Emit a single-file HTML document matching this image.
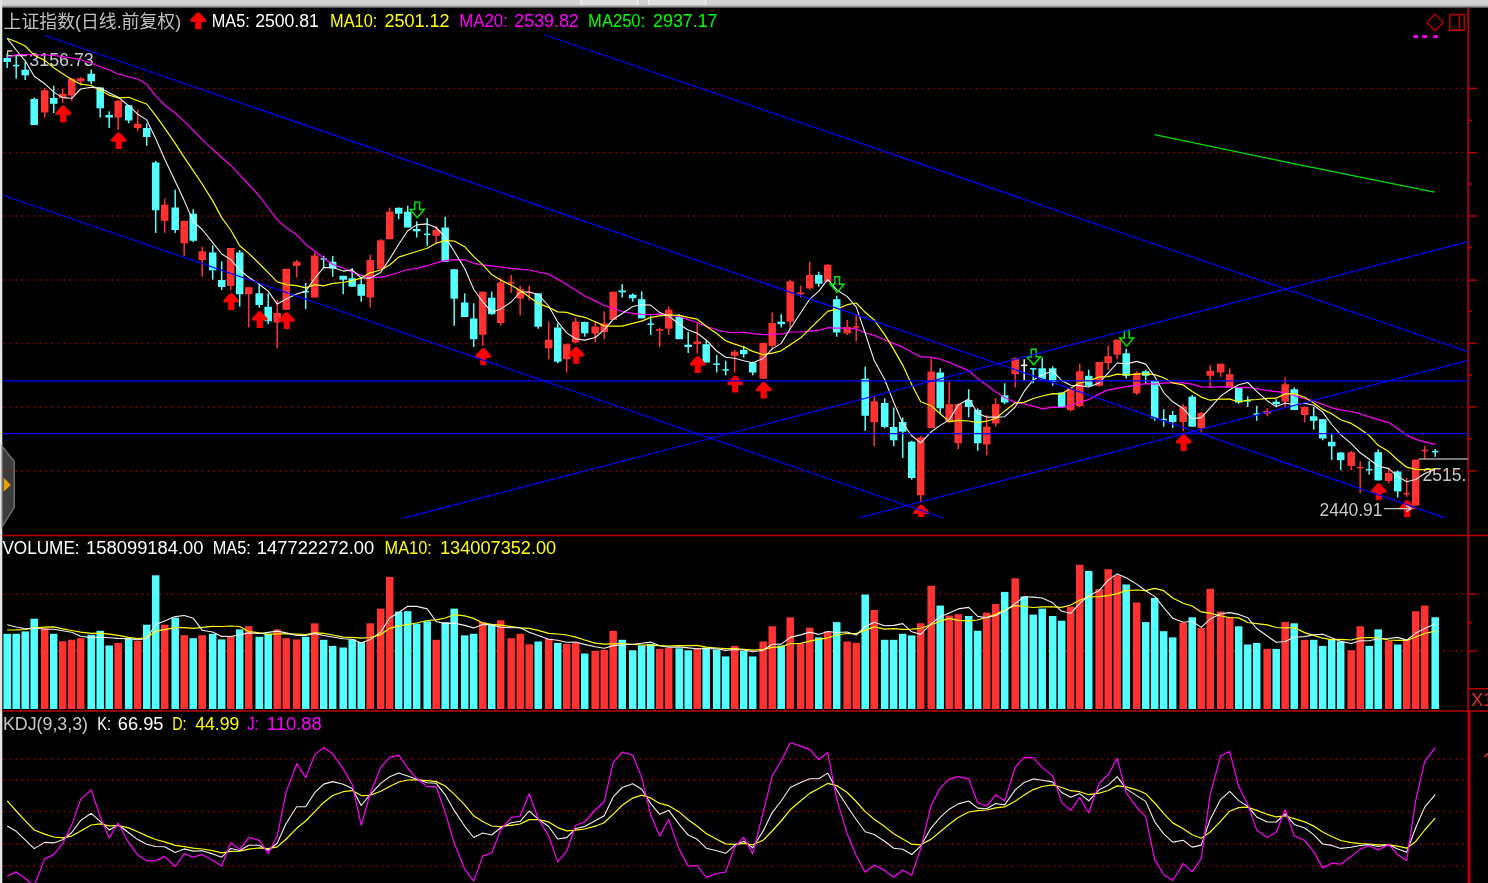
<!DOCTYPE html>
<html><head><meta charset="utf-8"><title>chart</title>
<style>html,body{margin:0;padding:0;background:#000;overflow:hidden}body{width:1488px;height:883px;position:relative}</style>
</head><body>
<svg width="1488" height="883" viewBox="0 0 1488 883" style="position:absolute;left:0;top:0;display:block" font-family="&quot;Liberation Sans&quot;,&quot;Noto Sans CJK SC&quot;,sans-serif">
<defs><linearGradient id="tg" x1="0" y1="0" x2="0" y2="1"><stop offset="0" stop-color="#d3d3d3"/><stop offset="0.56" stop-color="#d0d0d0"/><stop offset="0.72" stop-color="#a4a4a4"/><stop offset="0.86" stop-color="#5a5a5a"/><stop offset="0.98" stop-color="#000"/></linearGradient>
<clipPath id="mc"><rect x="2.5" y="8" width="1465.5" height="510.4"/></clipPath>
<clipPath id="ax"><rect x="0" y="0" width="1468" height="883"/></clipPath>
<clipPath id="ac"><rect x="0" y="0" width="1488" height="517"/></clipPath>
<path id="ua" d="M-1.2,0 H1.2 L7.7,7 V9.4 H3.05 V16.7 H-3.05 V9.4 H-7.7 V7 Z"/>
<path id="da" d="M-2.4,0 H2.4 V7.4 H7 L0,15.5 L-7,7.4 H-2.4 Z"/>
</defs>
<rect width="1488" height="883" fill="#000"/>
<rect x="0" y="0" width="1488" height="8.7" fill="url(#tg)"/>
<rect x="580.5" y="0" width="57.8" height="5" fill="#dfdfdf"/><rect x="648" y="0" width="58.3" height="5" fill="#dfdfdf"/>
<rect x="580.5" y="0" width="1.3" height="5" fill="#f4f4f4"/><rect x="648" y="0" width="1.3" height="5" fill="#f4f4f4"/><rect x="637" y="0" width="1.3" height="5" fill="#f0f0f0"/><rect x="705" y="0" width="1.3" height="5" fill="#f0f0f0"/>
<rect x="0" y="0" width="2.3" height="883" fill="#e4e4e4"/>
<path d="M2.3,446.5 L14.3,461.5 L14.3,507.3 L2.3,526.5 Z" fill="#3c3c3c" stroke="#6c6c6c" stroke-width="1.5"/>
<path d="M3.6,477.6 L10.8,484.9 L3.6,491.8 Z" fill="#e8a000"/>
<line x1="3.6" y1="88.4" x2="1465" y2="88.4" stroke="#b00000" stroke-width="1.5" stroke-dasharray="1.5 4.5"/>
<line x1="3.6" y1="152.7" x2="1465" y2="152.7" stroke="#b00000" stroke-width="1.5" stroke-dasharray="1.5 4.5"/>
<line x1="3.6" y1="216" x2="1465" y2="216" stroke="#b00000" stroke-width="1.5" stroke-dasharray="1.5 4.5"/>
<line x1="3.6" y1="280.1" x2="1465" y2="280.1" stroke="#b00000" stroke-width="1.5" stroke-dasharray="1.5 4.5"/>
<line x1="3.6" y1="343.4" x2="1465" y2="343.4" stroke="#b00000" stroke-width="1.5" stroke-dasharray="1.5 4.5"/>
<line x1="3.6" y1="406.9" x2="1465" y2="406.9" stroke="#b00000" stroke-width="1.5" stroke-dasharray="1.5 4.5"/>
<line x1="3.6" y1="470.9" x2="1465" y2="470.9" stroke="#b00000" stroke-width="1.5" stroke-dasharray="1.5 4.5"/>
<line x1="3.6" y1="594" x2="1465" y2="594" stroke="#b00000" stroke-width="1.5" stroke-dasharray="1.5 4.5"/>
<line x1="3.6" y1="651" x2="1465" y2="651" stroke="#b00000" stroke-width="1.5" stroke-dasharray="1.5 4.5"/>
<line x1="3.6" y1="759" x2="1465" y2="759" stroke="#b00000" stroke-width="1.5" stroke-dasharray="1.5 4.5"/>
<line x1="3.6" y1="780.2" x2="1465" y2="780.2" stroke="#b00000" stroke-width="1.5" stroke-dasharray="1.5 4.5"/>
<line x1="3.6" y1="811.6" x2="1465" y2="811.6" stroke="#b00000" stroke-width="1.5" stroke-dasharray="1.5 4.5"/>
<line x1="3.6" y1="844.1" x2="1465" y2="844.1" stroke="#b00000" stroke-width="1.5" stroke-dasharray="1.5 4.5"/>
<line x1="3.6" y1="865.8" x2="1465" y2="865.8" stroke="#b00000" stroke-width="1.5" stroke-dasharray="1.5 4.5"/>
<line x1="1468.15" y1="7.8" x2="1468.15" y2="711" stroke="#b80000" stroke-width="1.7"/>
<rect x="1467.4" y="711" width="3.2" height="172" fill="#b80000"/>
<line x1="1468" y1="88.4" x2="1477" y2="88.4" stroke="#b80000" stroke-width="1.5"/>
<line x1="1468" y1="152.7" x2="1477" y2="152.7" stroke="#b80000" stroke-width="1.5"/>
<line x1="1468" y1="216" x2="1477" y2="216" stroke="#b80000" stroke-width="1.5"/>
<line x1="1468" y1="280.1" x2="1477" y2="280.1" stroke="#b80000" stroke-width="1.5"/>
<line x1="1468" y1="343.4" x2="1477" y2="343.4" stroke="#b80000" stroke-width="1.5"/>
<line x1="1468" y1="406.9" x2="1477" y2="406.9" stroke="#b80000" stroke-width="1.5"/>
<line x1="1468" y1="470.9" x2="1477" y2="470.9" stroke="#b80000" stroke-width="1.5"/>
<line x1="1468" y1="120.3" x2="1472" y2="120.3" stroke="#b80000" stroke-width="1.5"/>
<line x1="1468" y1="184.0" x2="1472" y2="184.0" stroke="#b80000" stroke-width="1.5"/>
<line x1="1468" y1="247.7" x2="1472" y2="247.7" stroke="#b80000" stroke-width="1.5"/>
<line x1="1468" y1="311.4" x2="1472" y2="311.4" stroke="#b80000" stroke-width="1.5"/>
<line x1="1468" y1="375.2" x2="1472" y2="375.2" stroke="#b80000" stroke-width="1.5"/>
<line x1="1468" y1="438.9" x2="1472" y2="438.9" stroke="#b80000" stroke-width="1.5"/>
<line x1="1468" y1="594" x2="1477" y2="594" stroke="#b80000" stroke-width="1.5"/>
<line x1="1468" y1="651" x2="1477" y2="651" stroke="#b80000" stroke-width="1.5"/>
<line x1="1468" y1="622.6" x2="1472" y2="622.6" stroke="#b80000" stroke-width="1.5"/>
<path d="M1484.5,757 L1488,753.5" stroke="#e03030" stroke-width="1.5"/>
<line x1="2.3" y1="535.5" x2="1488" y2="535.5" stroke="#b80000" stroke-width="1.6"/>
<line x1="2.3" y1="711" x2="1488" y2="711" stroke="#b80000" stroke-width="1.6"/>
<path d="M1468.6,688.7 H1488" stroke="#b80000" stroke-width="1.5" fill="none"/>
<text x="1471.3" y="705.6" font-size="18" fill="#e03030">X1</text>
<rect x="6.45" y="53.3" width="1.5" height="14.7" fill="#54ffff"/>
<rect x="3.45" y="58.0" width="7.5" height="4.0" fill="#54ffff"/>
<rect x="15.45" y="55.0" width="1.5" height="23.7" fill="#54ffff"/>
<rect x="13.00" y="64.8" width="6.4" height="1.5" fill="#54ffff"/>
<rect x="24.45" y="61.7" width="1.5" height="18.3" fill="#54ffff"/>
<rect x="21.45" y="69.7" width="7.5" height="5.6" fill="#54ffff"/>
<rect x="33.45" y="97.5" width="1.5" height="27.5" fill="#54ffff"/>
<rect x="30.45" y="99.0" width="7.5" height="26.0" fill="#54ffff"/>
<rect x="43.95" y="88.3" width="1.5" height="29.2" fill="#ff3232"/>
<rect x="40.95" y="90.3" width="7.5" height="22.2" fill="#ff3232"/>
<rect x="52.95" y="85.8" width="1.5" height="27.2" fill="#54ffff"/>
<rect x="49.95" y="98.0" width="7.5" height="5.8" fill="#54ffff"/>
<rect x="61.95" y="88.3" width="1.5" height="14.5" fill="#ff3232"/>
<rect x="58.95" y="93.8" width="7.5" height="4.2" fill="#ff3232"/>
<rect x="70.95" y="78.0" width="1.5" height="22.8" fill="#ff3232"/>
<rect x="67.95" y="78.7" width="7.5" height="16.8" fill="#ff3232"/>
<rect x="79.95" y="77.2" width="1.5" height="8.1" fill="#ff3232"/>
<rect x="76.95" y="78.3" width="7.5" height="3.0" fill="#ff3232"/>
<rect x="90.45" y="69.5" width="1.5" height="14.7" fill="#54ffff"/>
<rect x="87.45" y="73.7" width="7.5" height="7.6" fill="#54ffff"/>
<rect x="99.45" y="87.5" width="1.5" height="30.0" fill="#54ffff"/>
<rect x="96.45" y="87.5" width="7.5" height="20.8" fill="#54ffff"/>
<rect x="108.45" y="111.3" width="1.5" height="16.7" fill="#54ffff"/>
<rect x="105.45" y="115.0" width="7.5" height="2.5" fill="#54ffff"/>
<rect x="117.45" y="100.0" width="1.5" height="30.0" fill="#ff3232"/>
<rect x="114.45" y="100.8" width="7.5" height="16.7" fill="#ff3232"/>
<rect x="127.95" y="105.0" width="1.5" height="18.3" fill="#54ffff"/>
<rect x="124.95" y="105.3" width="7.5" height="15.2" fill="#54ffff"/>
<rect x="136.95" y="110.0" width="1.5" height="21.2" fill="#ff3232"/>
<rect x="133.95" y="123.8" width="7.5" height="4.2" fill="#ff3232"/>
<rect x="145.95" y="123.3" width="1.5" height="22.5" fill="#54ffff"/>
<rect x="142.95" y="128.0" width="7.5" height="9.0" fill="#54ffff"/>
<rect x="154.95" y="160.8" width="1.5" height="72.2" fill="#54ffff"/>
<rect x="151.95" y="162.5" width="7.5" height="47.8" fill="#54ffff"/>
<rect x="163.95" y="198.7" width="1.5" height="34.3" fill="#ff3232"/>
<rect x="160.95" y="204.7" width="7.5" height="16.1" fill="#ff3232"/>
<rect x="174.45" y="189.7" width="1.5" height="43.3" fill="#54ffff"/>
<rect x="171.45" y="207.5" width="7.5" height="22.5" fill="#54ffff"/>
<rect x="183.45" y="220.8" width="1.5" height="35.0" fill="#ff3232"/>
<rect x="180.45" y="220.8" width="7.5" height="22.5" fill="#ff3232"/>
<rect x="192.45" y="209.2" width="1.5" height="32.8" fill="#54ffff"/>
<rect x="189.45" y="213.7" width="7.5" height="27.1" fill="#54ffff"/>
<rect x="201.45" y="246.7" width="1.5" height="30.0" fill="#ff3232"/>
<rect x="198.45" y="251.3" width="7.5" height="8.7" fill="#ff3232"/>
<rect x="211.95" y="245.3" width="1.5" height="34.4" fill="#54ffff"/>
<rect x="208.95" y="252.5" width="7.5" height="17.8" fill="#54ffff"/>
<rect x="220.95" y="261.3" width="1.5" height="28.7" fill="#54ffff"/>
<rect x="217.95" y="280.0" width="7.5" height="7.0" fill="#54ffff"/>
<rect x="229.95" y="248.0" width="1.5" height="42.0" fill="#ff3232"/>
<rect x="226.95" y="248.0" width="7.5" height="37.8" fill="#ff3232"/>
<rect x="238.95" y="250.0" width="1.5" height="56.7" fill="#54ffff"/>
<rect x="235.95" y="252.5" width="7.5" height="41.7" fill="#54ffff"/>
<rect x="247.95" y="287.2" width="1.5" height="40.3" fill="#ff3232"/>
<rect x="244.95" y="287.2" width="7.5" height="7.0" fill="#ff3232"/>
<rect x="258.45" y="284.2" width="1.5" height="23.3" fill="#54ffff"/>
<rect x="255.45" y="293.3" width="7.5" height="11.7" fill="#54ffff"/>
<rect x="267.45" y="293.3" width="1.5" height="30.9" fill="#54ffff"/>
<rect x="264.45" y="306.7" width="7.5" height="14.6" fill="#54ffff"/>
<rect x="276.45" y="299.7" width="1.5" height="48.6" fill="#ff3232"/>
<rect x="273.45" y="313.0" width="7.5" height="9.5" fill="#ff3232"/>
<rect x="285.45" y="268.8" width="1.5" height="41.2" fill="#ff3232"/>
<rect x="282.45" y="268.8" width="7.5" height="40.9" fill="#ff3232"/>
<rect x="295.95" y="260.0" width="1.5" height="17.5" fill="#ff3232"/>
<rect x="292.95" y="261.7" width="7.5" height="4.1" fill="#ff3232"/>
<rect x="304.95" y="283.0" width="1.5" height="26.2" fill="#54ffff"/>
<rect x="302.50" y="290.9" width="6.4" height="1.5" fill="#54ffff"/>
<rect x="313.95" y="252.5" width="1.5" height="45.0" fill="#ff3232"/>
<rect x="310.95" y="255.5" width="7.5" height="42.0" fill="#ff3232"/>
<rect x="322.95" y="255.8" width="1.5" height="12.5" fill="#54ffff"/>
<rect x="320.50" y="258.2" width="6.4" height="1.5" fill="#54ffff"/>
<rect x="331.95" y="255.8" width="1.5" height="20.9" fill="#54ffff"/>
<rect x="328.95" y="261.7" width="7.5" height="6.6" fill="#54ffff"/>
<rect x="342.45" y="275.8" width="1.5" height="18.4" fill="#54ffff"/>
<rect x="339.45" y="275.8" width="7.5" height="3.9" fill="#54ffff"/>
<rect x="351.45" y="268.0" width="1.5" height="18.7" fill="#54ffff"/>
<rect x="348.45" y="278.3" width="7.5" height="8.4" fill="#54ffff"/>
<rect x="360.45" y="277.5" width="1.5" height="24.2" fill="#54ffff"/>
<rect x="357.45" y="284.2" width="7.5" height="11.6" fill="#54ffff"/>
<rect x="369.45" y="254.7" width="1.5" height="52.8" fill="#ff3232"/>
<rect x="366.45" y="260.0" width="7.5" height="37.5" fill="#ff3232"/>
<rect x="379.95" y="239.2" width="1.5" height="30.0" fill="#ff3232"/>
<rect x="376.95" y="240.3" width="7.5" height="28.9" fill="#ff3232"/>
<rect x="388.95" y="207.5" width="1.5" height="31.7" fill="#ff3232"/>
<rect x="385.95" y="211.7" width="7.5" height="27.5" fill="#ff3232"/>
<rect x="397.95" y="207.5" width="1.5" height="11.7" fill="#54ffff"/>
<rect x="394.95" y="207.8" width="7.5" height="6.0" fill="#54ffff"/>
<rect x="406.95" y="205.8" width="1.5" height="21.7" fill="#54ffff"/>
<rect x="403.95" y="211.7" width="7.5" height="15.8" fill="#54ffff"/>
<rect x="415.95" y="221.3" width="1.5" height="16.2" fill="#54ffff"/>
<rect x="412.95" y="229.0" width="7.5" height="2.3" fill="#54ffff"/>
<rect x="426.45" y="218.0" width="1.5" height="27.8" fill="#54ffff"/>
<rect x="424.00" y="233.6" width="6.4" height="1.5" fill="#54ffff"/>
<rect x="435.45" y="225.8" width="1.5" height="17.5" fill="#ff3232"/>
<rect x="432.45" y="230.0" width="7.5" height="5.8" fill="#ff3232"/>
<rect x="444.45" y="216.7" width="1.5" height="45.0" fill="#54ffff"/>
<rect x="441.45" y="227.5" width="7.5" height="34.2" fill="#54ffff"/>
<rect x="453.45" y="269.2" width="1.5" height="56.6" fill="#54ffff"/>
<rect x="450.45" y="269.2" width="7.5" height="29.5" fill="#54ffff"/>
<rect x="463.95" y="293.3" width="1.5" height="23.7" fill="#54ffff"/>
<rect x="460.95" y="302.5" width="7.5" height="14.5" fill="#54ffff"/>
<rect x="472.95" y="303.3" width="1.5" height="43.7" fill="#54ffff"/>
<rect x="469.95" y="318.5" width="7.5" height="20.7" fill="#54ffff"/>
<rect x="481.95" y="291.7" width="1.5" height="54.1" fill="#ff3232"/>
<rect x="478.95" y="291.7" width="7.5" height="43.0" fill="#ff3232"/>
<rect x="490.95" y="291.5" width="1.5" height="23.2" fill="#54ffff"/>
<rect x="487.95" y="297.7" width="7.5" height="16.5" fill="#54ffff"/>
<rect x="499.95" y="278.2" width="1.5" height="47.6" fill="#ff3232"/>
<rect x="496.95" y="282.5" width="7.5" height="40.5" fill="#ff3232"/>
<rect x="510.45" y="275.0" width="1.5" height="18.0" fill="#ff3232"/>
<rect x="508.00" y="282.1" width="6.4" height="1.5" fill="#ff3232"/>
<rect x="519.45" y="285.8" width="1.5" height="29.5" fill="#ff3232"/>
<rect x="516.45" y="289.2" width="7.5" height="9.5" fill="#ff3232"/>
<rect x="528.45" y="285.8" width="1.5" height="14.5" fill="#ff3232"/>
<rect x="526.00" y="291.8" width="6.4" height="1.5" fill="#ff3232"/>
<rect x="537.45" y="293.3" width="1.5" height="35.4" fill="#54ffff"/>
<rect x="534.45" y="293.3" width="7.5" height="33.4" fill="#54ffff"/>
<rect x="547.95" y="321.7" width="1.5" height="37.5" fill="#ff3232"/>
<rect x="544.95" y="339.7" width="7.5" height="8.6" fill="#ff3232"/>
<rect x="556.95" y="323.3" width="1.5" height="40.0" fill="#54ffff"/>
<rect x="553.95" y="327.5" width="7.5" height="34.2" fill="#54ffff"/>
<rect x="565.95" y="343.3" width="1.5" height="29.2" fill="#ff3232"/>
<rect x="562.95" y="344.2" width="7.5" height="15.0" fill="#ff3232"/>
<rect x="574.95" y="317.5" width="1.5" height="25.8" fill="#ff3232"/>
<rect x="571.95" y="321.7" width="7.5" height="20.8" fill="#ff3232"/>
<rect x="583.95" y="321.7" width="1.5" height="15.0" fill="#54ffff"/>
<rect x="580.95" y="322.0" width="7.5" height="11.3" fill="#54ffff"/>
<rect x="594.45" y="321.7" width="1.5" height="20.8" fill="#ff3232"/>
<rect x="591.45" y="326.5" width="7.5" height="7.0" fill="#ff3232"/>
<rect x="603.45" y="311.5" width="1.5" height="27.7" fill="#ff3232"/>
<rect x="600.45" y="323.5" width="7.5" height="8.5" fill="#ff3232"/>
<rect x="612.45" y="291.5" width="1.5" height="28.5" fill="#ff3232"/>
<rect x="609.45" y="291.7" width="7.5" height="28.3" fill="#ff3232"/>
<rect x="621.45" y="284.2" width="1.5" height="13.3" fill="#54ffff"/>
<rect x="618.45" y="290.5" width="7.5" height="1.8" fill="#54ffff"/>
<rect x="631.95" y="293.3" width="1.5" height="8.4" fill="#54ffff"/>
<rect x="628.95" y="294.7" width="7.5" height="3.6" fill="#54ffff"/>
<rect x="640.95" y="291.3" width="1.5" height="27.0" fill="#54ffff"/>
<rect x="637.95" y="299.2" width="7.5" height="19.1" fill="#54ffff"/>
<rect x="649.95" y="315.8" width="1.5" height="19.2" fill="#54ffff"/>
<rect x="647.50" y="323.4" width="6.4" height="1.5" fill="#54ffff"/>
<rect x="658.95" y="327.5" width="1.5" height="19.5" fill="#ff3232"/>
<rect x="655.95" y="329.2" width="7.5" height="1.6" fill="#ff3232"/>
<rect x="667.95" y="306.3" width="1.5" height="28.7" fill="#ff3232"/>
<rect x="664.95" y="309.7" width="7.5" height="19.0" fill="#ff3232"/>
<rect x="678.45" y="314.2" width="1.5" height="25.0" fill="#54ffff"/>
<rect x="675.45" y="316.7" width="7.5" height="22.5" fill="#54ffff"/>
<rect x="687.45" y="331.7" width="1.5" height="21.3" fill="#54ffff"/>
<rect x="684.45" y="344.7" width="7.5" height="2.3" fill="#54ffff"/>
<rect x="696.45" y="323.3" width="1.5" height="30.0" fill="#ff3232"/>
<rect x="693.45" y="341.5" width="7.5" height="2.5" fill="#ff3232"/>
<rect x="705.45" y="340.8" width="1.5" height="21.7" fill="#54ffff"/>
<rect x="702.45" y="344.2" width="7.5" height="18.3" fill="#54ffff"/>
<rect x="715.95" y="355.0" width="1.5" height="17.5" fill="#54ffff"/>
<rect x="713.50" y="363.4" width="6.4" height="1.5" fill="#54ffff"/>
<rect x="724.95" y="360.8" width="1.5" height="14.5" fill="#54ffff"/>
<rect x="722.50" y="369.2" width="6.4" height="1.5" fill="#54ffff"/>
<rect x="733.95" y="350.0" width="1.5" height="22.5" fill="#ff3232"/>
<rect x="730.95" y="351.7" width="7.5" height="4.1" fill="#ff3232"/>
<rect x="742.95" y="345.8" width="1.5" height="11.7" fill="#54ffff"/>
<rect x="739.95" y="350.0" width="7.5" height="4.2" fill="#54ffff"/>
<rect x="751.95" y="361.7" width="1.5" height="13.6" fill="#54ffff"/>
<rect x="748.95" y="362.5" width="7.5" height="10.0" fill="#54ffff"/>
<rect x="762.45" y="342.5" width="1.5" height="36.2" fill="#ff3232"/>
<rect x="759.45" y="343.0" width="7.5" height="35.7" fill="#ff3232"/>
<rect x="771.45" y="312.5" width="1.5" height="36.7" fill="#ff3232"/>
<rect x="768.45" y="323.0" width="7.5" height="22.8" fill="#ff3232"/>
<rect x="780.45" y="314.2" width="1.5" height="13.3" fill="#54ffff"/>
<rect x="777.45" y="321.7" width="7.5" height="2.5" fill="#54ffff"/>
<rect x="789.45" y="280.0" width="1.5" height="49.2" fill="#ff3232"/>
<rect x="786.45" y="281.3" width="7.5" height="40.4" fill="#ff3232"/>
<rect x="799.95" y="285.5" width="1.5" height="12.0" fill="#ff3232"/>
<rect x="796.95" y="292.5" width="7.5" height="1.7" fill="#ff3232"/>
<rect x="808.95" y="261.7" width="1.5" height="28.3" fill="#ff3232"/>
<rect x="805.95" y="275.0" width="7.5" height="13.3" fill="#ff3232"/>
<rect x="817.95" y="271.7" width="1.5" height="15.0" fill="#54ffff"/>
<rect x="814.95" y="275.0" width="7.5" height="8.7" fill="#54ffff"/>
<rect x="826.95" y="264.2" width="1.5" height="18.3" fill="#ff3232"/>
<rect x="823.95" y="264.7" width="7.5" height="17.0" fill="#ff3232"/>
<rect x="835.95" y="295.8" width="1.5" height="40.9" fill="#54ffff"/>
<rect x="832.95" y="299.2" width="7.5" height="33.3" fill="#54ffff"/>
<rect x="846.45" y="320.0" width="1.5" height="15.0" fill="#ff3232"/>
<rect x="843.45" y="327.0" width="7.5" height="6.3" fill="#ff3232"/>
<rect x="855.45" y="315.0" width="1.5" height="26.3" fill="#ff3232"/>
<rect x="853.00" y="326.2" width="6.4" height="1.5" fill="#ff3232"/>
<rect x="864.45" y="366.7" width="1.5" height="64.1" fill="#54ffff"/>
<rect x="861.45" y="378.7" width="7.5" height="37.1" fill="#54ffff"/>
<rect x="873.45" y="396.7" width="1.5" height="49.6" fill="#ff3232"/>
<rect x="870.45" y="401.3" width="7.5" height="20.9" fill="#ff3232"/>
<rect x="883.95" y="398.3" width="1.5" height="30.0" fill="#54ffff"/>
<rect x="880.95" y="403.0" width="7.5" height="24.0" fill="#54ffff"/>
<rect x="892.95" y="407.5" width="1.5" height="38.8" fill="#54ffff"/>
<rect x="889.95" y="427.0" width="7.5" height="13.3" fill="#54ffff"/>
<rect x="901.95" y="417.5" width="1.5" height="40.5" fill="#54ffff"/>
<rect x="898.95" y="422.0" width="7.5" height="9.7" fill="#54ffff"/>
<rect x="910.95" y="440.8" width="1.5" height="38.9" fill="#54ffff"/>
<rect x="907.95" y="441.7" width="7.5" height="36.3" fill="#54ffff"/>
<rect x="919.95" y="435.8" width="1.5" height="65.9" fill="#ff3232"/>
<rect x="916.95" y="437.5" width="7.5" height="57.8" fill="#ff3232"/>
<rect x="930.45" y="358.5" width="1.5" height="69.5" fill="#ff3232"/>
<rect x="927.45" y="371.5" width="7.5" height="56.5" fill="#ff3232"/>
<rect x="939.45" y="368.3" width="1.5" height="45.2" fill="#54ffff"/>
<rect x="936.45" y="372.5" width="7.5" height="35.8" fill="#54ffff"/>
<rect x="948.45" y="381.7" width="1.5" height="41.3" fill="#ff3232"/>
<rect x="945.45" y="404.2" width="7.5" height="18.1" fill="#ff3232"/>
<rect x="957.45" y="403.3" width="1.5" height="45.9" fill="#ff3232"/>
<rect x="954.45" y="404.2" width="7.5" height="39.0" fill="#ff3232"/>
<rect x="967.95" y="389.2" width="1.5" height="28.3" fill="#54ffff"/>
<rect x="964.95" y="400.0" width="7.5" height="7.0" fill="#54ffff"/>
<rect x="976.95" y="408.3" width="1.5" height="42.5" fill="#54ffff"/>
<rect x="973.95" y="410.0" width="7.5" height="33.2" fill="#54ffff"/>
<rect x="985.95" y="415.0" width="1.5" height="40.3" fill="#ff3232"/>
<rect x="982.95" y="426.7" width="7.5" height="17.8" fill="#ff3232"/>
<rect x="994.95" y="398.2" width="1.5" height="28.5" fill="#ff3232"/>
<rect x="991.95" y="404.2" width="7.5" height="19.3" fill="#ff3232"/>
<rect x="1003.95" y="383.3" width="1.5" height="20.9" fill="#54ffff"/>
<rect x="1000.95" y="395.3" width="7.5" height="7.2" fill="#54ffff"/>
<rect x="1014.45" y="357.5" width="1.5" height="30.0" fill="#ff3232"/>
<rect x="1011.45" y="358.3" width="7.5" height="15.9" fill="#ff3232"/>
<rect x="1023.45" y="359.2" width="1.5" height="21.1" fill="#ffffff"/>
<rect x="1021.00" y="364.6" width="6.4" height="1.5" fill="#ffffff"/>
<rect x="1032.45" y="368.3" width="1.5" height="15.0" fill="#54ffff"/>
<rect x="1030.00" y="368.1" width="6.4" height="1.5" fill="#54ffff"/>
<rect x="1041.45" y="357.5" width="1.5" height="22.5" fill="#54ffff"/>
<rect x="1038.45" y="368.3" width="7.5" height="10.9" fill="#54ffff"/>
<rect x="1051.95" y="366.3" width="1.5" height="19.5" fill="#54ffff"/>
<rect x="1048.95" y="368.3" width="7.5" height="13.4" fill="#54ffff"/>
<rect x="1060.95" y="392.5" width="1.5" height="15.0" fill="#54ffff"/>
<rect x="1057.95" y="392.5" width="7.5" height="15.0" fill="#54ffff"/>
<rect x="1069.95" y="387.5" width="1.5" height="24.0" fill="#ff3232"/>
<rect x="1066.95" y="388.5" width="7.5" height="21.5" fill="#ff3232"/>
<rect x="1078.95" y="363.7" width="1.5" height="43.6" fill="#ff3232"/>
<rect x="1075.95" y="371.3" width="7.5" height="34.7" fill="#ff3232"/>
<rect x="1087.95" y="369.7" width="1.5" height="17.0" fill="#54ffff"/>
<rect x="1084.95" y="375.8" width="7.5" height="10.0" fill="#54ffff"/>
<rect x="1098.45" y="362.0" width="1.5" height="24.7" fill="#ff3232"/>
<rect x="1095.45" y="362.0" width="7.5" height="23.8" fill="#ff3232"/>
<rect x="1107.45" y="345.8" width="1.5" height="24.2" fill="#ff3232"/>
<rect x="1104.45" y="356.3" width="7.5" height="6.7" fill="#ff3232"/>
<rect x="1116.45" y="339.2" width="1.5" height="20.0" fill="#ff3232"/>
<rect x="1113.45" y="339.7" width="7.5" height="15.0" fill="#ff3232"/>
<rect x="1125.45" y="348.7" width="1.5" height="30.0" fill="#54ffff"/>
<rect x="1122.45" y="353.3" width="7.5" height="22.5" fill="#54ffff"/>
<rect x="1135.95" y="371.3" width="1.5" height="23.7" fill="#ff3232"/>
<rect x="1132.95" y="373.0" width="7.5" height="20.3" fill="#ff3232"/>
<rect x="1144.95" y="369.7" width="1.5" height="13.6" fill="#54ffff"/>
<rect x="1141.95" y="371.3" width="7.5" height="4.5" fill="#54ffff"/>
<rect x="1153.95" y="380.8" width="1.5" height="40.0" fill="#54ffff"/>
<rect x="1150.95" y="380.8" width="7.5" height="37.5" fill="#54ffff"/>
<rect x="1162.95" y="409.2" width="1.5" height="17.5" fill="#54ffff"/>
<rect x="1160.50" y="418.8" width="6.4" height="1.5" fill="#54ffff"/>
<rect x="1171.95" y="410.8" width="1.5" height="17.2" fill="#54ffff"/>
<rect x="1168.95" y="415.0" width="7.5" height="7.0" fill="#54ffff"/>
<rect x="1182.45" y="404.2" width="1.5" height="27.1" fill="#ff3232"/>
<rect x="1179.45" y="406.3" width="7.5" height="15.7" fill="#ff3232"/>
<rect x="1191.45" y="395.0" width="1.5" height="31.7" fill="#54ffff"/>
<rect x="1188.45" y="396.7" width="7.5" height="30.0" fill="#54ffff"/>
<rect x="1200.45" y="411.7" width="1.5" height="20.8" fill="#ff3232"/>
<rect x="1197.45" y="413.0" width="7.5" height="15.0" fill="#ff3232"/>
<rect x="1209.45" y="365.0" width="1.5" height="23.0" fill="#ff3232"/>
<rect x="1206.45" y="370.8" width="7.5" height="5.0" fill="#ff3232"/>
<rect x="1219.95" y="363.7" width="1.5" height="13.3" fill="#ff3232"/>
<rect x="1216.95" y="363.7" width="7.5" height="8.8" fill="#ff3232"/>
<rect x="1228.95" y="368.3" width="1.5" height="19.7" fill="#ff3232"/>
<rect x="1225.95" y="374.2" width="7.5" height="13.8" fill="#ff3232"/>
<rect x="1237.95" y="388.0" width="1.5" height="15.7" fill="#54ffff"/>
<rect x="1234.95" y="388.0" width="7.5" height="14.5" fill="#54ffff"/>
<rect x="1246.95" y="396.3" width="1.5" height="10.7" fill="#54ffff"/>
<rect x="1244.50" y="400.1" width="6.4" height="1.5" fill="#54ffff"/>
<rect x="1255.95" y="405.8" width="1.5" height="15.0" fill="#54ffff"/>
<rect x="1253.50" y="413.4" width="6.4" height="1.5" fill="#54ffff"/>
<rect x="1266.45" y="408.3" width="1.5" height="8.0" fill="#ff3232"/>
<rect x="1263.45" y="410.8" width="7.5" height="2.9" fill="#ff3232"/>
<rect x="1275.45" y="399.2" width="1.5" height="7.8" fill="#54ffff"/>
<rect x="1272.45" y="401.7" width="7.5" height="2.5" fill="#54ffff"/>
<rect x="1284.45" y="377.5" width="1.5" height="29.5" fill="#ff3232"/>
<rect x="1281.45" y="384.2" width="7.5" height="17.5" fill="#ff3232"/>
<rect x="1293.45" y="387.5" width="1.5" height="22.5" fill="#54ffff"/>
<rect x="1290.45" y="389.2" width="7.5" height="20.8" fill="#54ffff"/>
<rect x="1303.95" y="406.3" width="1.5" height="16.2" fill="#ff3232"/>
<rect x="1300.95" y="407.0" width="7.5" height="8.0" fill="#ff3232"/>
<rect x="1312.95" y="407.0" width="1.5" height="22.7" fill="#54ffff"/>
<rect x="1309.95" y="416.3" width="7.5" height="4.5" fill="#54ffff"/>
<rect x="1321.95" y="419.2" width="1.5" height="21.1" fill="#54ffff"/>
<rect x="1318.95" y="419.2" width="7.5" height="19.3" fill="#54ffff"/>
<rect x="1330.95" y="434.2" width="1.5" height="25.8" fill="#54ffff"/>
<rect x="1327.95" y="441.8" width="7.5" height="4.5" fill="#54ffff"/>
<rect x="1339.95" y="452.0" width="1.5" height="18.2" fill="#54ffff"/>
<rect x="1336.95" y="452.5" width="7.5" height="7.7" fill="#54ffff"/>
<rect x="1350.45" y="450.8" width="1.5" height="19.4" fill="#ff3232"/>
<rect x="1347.45" y="452.2" width="7.5" height="13.8" fill="#ff3232"/>
<rect x="1359.45" y="461.2" width="1.5" height="31.8" fill="#ff3232"/>
<rect x="1357.00" y="466.8" width="6.4" height="1.5" fill="#ff3232"/>
<rect x="1368.45" y="461.0" width="1.5" height="13.7" fill="#54ffff"/>
<rect x="1366.00" y="468.9" width="6.4" height="1.5" fill="#54ffff"/>
<rect x="1377.45" y="449.3" width="1.5" height="31.2" fill="#54ffff"/>
<rect x="1374.45" y="452.2" width="7.5" height="28.2" fill="#54ffff"/>
<rect x="1387.95" y="467.6" width="1.5" height="15.8" fill="#ff3232"/>
<rect x="1384.95" y="473.1" width="7.5" height="7.9" fill="#ff3232"/>
<rect x="1396.95" y="470.4" width="1.5" height="27.0" fill="#54ffff"/>
<rect x="1393.95" y="471.5" width="7.5" height="19.9" fill="#54ffff"/>
<rect x="1405.95" y="477.9" width="1.5" height="19.0" fill="#ff3232"/>
<rect x="1403.50" y="492.9" width="6.4" height="1.5" fill="#ff3232"/>
<rect x="1414.95" y="459.6" width="1.5" height="46.0" fill="#ff3232"/>
<rect x="1411.95" y="459.6" width="7.5" height="46.0" fill="#ff3232"/>
<rect x="1423.95" y="446.2" width="1.5" height="13.1" fill="#ff3232"/>
<rect x="1421.50" y="449.8" width="6.4" height="1.5" fill="#ff3232"/>
<rect x="1434.45" y="449.0" width="1.5" height="7.8" fill="#54ffff"/>
<rect x="1432.00" y="450.9" width="6.4" height="1.5" fill="#54ffff"/>
<line x1="1418.5" y1="458.9" x2="1468" y2="458.9" stroke="#a0a0a0" stroke-width="1.5"/>
<text x="1422.5" y="480.8" font-size="18" fill="#c8c8c8" textLength="44" lengthAdjust="spacingAndGlyphs">2515.</text>
<path d="M12.3,51 H7.6 V55.6 H27" fill="none" stroke="#c8c8c8" stroke-width="1.3"/>
<text x="29.3" y="65.6" font-size="18" fill="#c8c8c8" textLength="64.5" lengthAdjust="spacingAndGlyphs">3156.73</text>
<polyline points="7.2,57.5 16.2,54.7 25.2,54.7 34.2,54.7 44.7,55.0 53.7,55.5 62.7,56.7 71.7,58.0 80.7,59.7 91.2,63.0 100.2,66.5 109.2,70.0 118.2,74.0 128.7,77.0 137.7,79.0 146.7,84.2 155.7,95.8 164.7,105.0 175.2,113.0 184.2,121.4 193.2,130.3 202.2,139.6 212.7,149.4 221.7,157.5 230.7,165.3 239.7,174.9 248.7,184.5 259.2,195.9 268.2,208.0 277.2,219.6 286.2,227.6 296.7,234.8 305.7,244.4 314.7,251.2 323.7,257.9 332.7,264.5 343.2,268.0 352.2,272.1 361.2,275.4 370.2,277.3 380.7,277.3 389.7,275.3 398.7,272.5 407.7,269.5 416.7,268.7 427.2,265.7 436.2,262.9 445.2,260.7 454.2,259.6 464.7,259.8 473.7,263.3 482.7,264.8 491.7,265.9 500.7,267.2 511.2,268.4 520.2,269.4 529.2,270.0 538.2,272.0 548.7,274.2 557.7,279.3 566.7,284.5 575.7,290.0 584.7,296.0 595.2,300.9 604.2,305.5 613.2,308.4 622.2,311.5 632.7,313.3 641.7,314.3 650.7,314.7 659.7,314.2 668.7,315.1 679.2,316.3 688.2,319.6 697.2,322.5 706.2,326.2 716.7,329.8 725.7,332.0 734.7,332.6 743.7,332.2 752.7,333.6 763.2,334.7 772.2,334.2 781.2,334.1 790.2,332.0 800.7,332.0 809.7,331.1 818.7,330.4 827.7,327.7 836.7,328.1 847.2,328.0 856.2,328.9 865.2,332.7 874.2,335.4 884.7,339.7 893.7,343.6 902.7,346.9 911.7,352.3 920.7,356.6 931.2,357.4 940.2,359.2 949.2,362.3 958.2,366.4 968.7,370.5 977.7,378.6 986.7,385.3 995.7,391.8 1004.7,397.7 1015.2,402.4 1024.2,404.0 1033.2,406.1 1042.2,408.8 1052.7,407.1 1061.7,407.4 1070.7,405.5 1079.7,402.0 1088.7,399.7 1099.2,393.9 1108.2,389.9 1117.2,388.3 1126.2,386.6 1136.7,385.1 1145.7,383.7 1154.7,384.2 1163.7,383.1 1172.7,382.8 1183.2,382.9 1192.2,384.1 1201.2,386.9 1210.2,387.1 1220.7,386.9 1229.7,386.6 1238.7,387.7 1247.7,387.4 1256.7,388.7 1267.2,390.6 1276.2,391.6 1285.2,392.7 1294.2,395.4 1304.7,398.7 1313.7,401.0 1322.7,404.2 1331.7,407.8 1340.7,409.9 1351.2,411.5 1360.2,413.7 1369.2,416.9 1378.2,419.6 1388.7,422.6 1397.7,428.6 1406.7,435.1 1415.7,439.4 1424.7,441.8 1435.2,444.3" fill="none" stroke="#ff00ff" stroke-width="1.2" stroke-linejoin="round" />
<polyline points="7.2,38.3 16.2,41.7 25.2,46.0 34.2,55.2 44.7,60.4 53.7,67.8 62.7,73.8 71.7,79.6 80.7,84.2 91.2,85.5 100.2,90.1 109.2,95.2 118.2,97.8 128.7,97.3 137.7,100.7 146.7,104.0 155.7,115.7 164.7,128.2 175.2,143.4 184.2,157.4 193.2,170.6 202.2,184.0 212.7,200.9 221.7,217.6 230.7,230.0 239.7,245.7 248.7,253.4 259.2,263.5 268.2,272.6 277.2,281.8 286.2,284.6 296.7,285.6 305.7,287.9 314.7,284.7 323.7,285.9 332.7,283.3 343.2,282.5 352.2,280.7 361.2,278.1 370.2,272.8 380.7,270.0 389.7,265.0 398.7,257.1 407.7,254.3 416.7,251.5 427.2,248.2 436.2,243.2 445.2,240.7 454.2,241.0 464.7,246.7 473.7,256.6 482.7,264.6 491.7,274.6 500.7,280.1 511.2,285.2 520.2,290.6 529.2,296.9 538.2,303.4 548.7,307.4 557.7,311.9 566.7,312.4 575.7,315.4 584.7,317.3 595.2,321.7 604.2,325.9 613.2,326.1 622.2,326.1 632.7,323.3 641.7,321.1 650.7,317.4 659.7,315.9 668.7,314.8 679.2,315.3 688.2,317.4 697.2,319.2 706.2,326.3 716.7,333.5 725.7,340.7 734.7,344.1 743.7,347.0 752.7,351.4 763.2,354.7 772.2,353.1 781.2,350.8 790.2,344.8 800.7,337.8 809.7,328.8 818.7,320.1 827.7,311.4 836.7,309.2 847.2,304.7 856.2,303.0 865.2,312.3 874.2,320.0 884.7,334.6 893.7,349.4 902.7,365.1 911.7,384.5 920.7,401.8 931.2,405.7 940.2,413.8 949.2,421.6 958.2,420.4 968.7,421.0 977.7,422.6 986.7,421.2 995.7,418.5 1004.7,410.9 1015.2,403.0 1024.2,402.4 1033.2,398.5 1042.2,396.0 1052.7,393.7 1061.7,393.8 1070.7,388.3 1079.7,382.8 1088.7,380.9 1099.2,376.9 1108.2,376.7 1117.2,374.1 1126.2,374.8 1136.7,374.2 1145.7,373.6 1154.7,374.6 1163.7,377.8 1172.7,382.9 1183.2,384.9 1192.2,391.4 1201.2,397.1 1210.2,400.2 1220.7,399.0 1229.7,399.1 1238.7,401.8 1247.7,400.1 1256.7,399.5 1267.2,398.4 1276.2,398.2 1285.2,393.9 1294.2,393.6 1304.7,397.3 1313.7,403.0 1322.7,409.4 1331.7,413.8 1340.7,419.7 1351.2,423.4 1360.2,429.0 1369.2,435.6 1378.2,445.3 1388.7,451.6 1397.7,460.0 1406.7,467.2 1415.7,469.4 1424.7,469.7 1435.2,468.9" fill="none" stroke="#ffff00" stroke-width="1.2" stroke-linejoin="round" />
<polyline points="7.2,38.3 16.2,50.0 25.2,60.8 34.2,76.3 44.7,83.7 53.7,92.1 62.7,97.6 71.7,98.3 80.7,89.0 91.2,87.2 100.2,88.1 109.2,92.8 118.2,97.2 128.7,105.7 137.7,114.2 146.7,119.9 155.7,138.5 164.7,159.3 175.2,181.2 184.2,200.6 193.2,221.3 202.2,229.5 212.7,242.6 221.7,254.0 230.7,259.5 239.7,270.2 248.7,277.3 259.2,284.3 268.2,291.1 277.2,304.1 286.2,299.1 296.7,294.0 305.7,291.4 314.7,278.3 323.7,267.6 332.7,267.5 343.2,271.1 352.2,269.9 361.2,278.0 370.2,278.1 380.7,272.5 389.7,258.9 398.7,244.3 407.7,230.7 416.7,224.9 427.2,223.9 436.2,227.5 445.2,237.1 454.2,251.3 464.7,268.5 473.7,289.3 482.7,301.7 491.7,312.2 500.7,308.9 511.2,302.0 520.2,292.0 529.2,292.0 538.2,294.5 548.7,306.0 557.7,321.9 566.7,332.9 575.7,338.8 584.7,340.1 595.2,337.5 604.2,329.8 613.2,319.3 622.2,313.5 632.7,306.5 641.7,304.8 650.7,305.1 659.7,312.6 668.7,316.0 679.2,324.2 688.2,330.0 697.2,333.3 706.2,340.0 716.7,351.0 725.7,357.2 734.7,358.2 743.7,360.7 752.7,362.7 763.2,358.4 772.2,348.9 781.2,343.4 790.2,328.8 800.7,312.8 809.7,299.2 818.7,291.3 827.7,279.4 836.7,289.7 847.2,296.6 856.2,306.9 865.2,333.3 874.2,360.6 884.7,379.5 893.7,402.2 902.7,423.2 911.7,435.7 920.7,442.9 931.2,431.8 940.2,425.4 949.2,419.9 958.2,405.1 968.7,399.0 977.7,413.4 986.7,417.1 995.7,417.1 1004.7,416.7 1015.2,407.0 1024.2,391.4 1033.2,379.9 1042.2,374.9 1052.7,370.8 1061.7,380.6 1070.7,385.2 1079.7,385.6 1088.7,387.0 1099.2,383.0 1108.2,372.8 1117.2,363.0 1126.2,363.9 1136.7,361.4 1145.7,364.1 1154.7,376.5 1163.7,392.6 1172.7,401.8 1183.2,408.5 1192.2,418.7 1201.2,417.6 1210.2,407.8 1220.7,396.1 1229.7,389.7 1238.7,384.8 1247.7,382.5 1256.7,391.3 1267.2,400.7 1276.2,406.7 1285.2,403.0 1294.2,404.8 1304.7,403.2 1313.7,405.2 1322.7,412.1 1331.7,424.5 1340.7,434.6 1351.2,443.6 1360.2,452.8 1369.2,459.2 1378.2,466.0 1388.7,468.6 1397.7,476.4 1406.7,481.7 1415.7,479.5 1424.7,473.5 1435.2,469.3" fill="none" stroke="#f0f0f0" stroke-width="1.1" stroke-linejoin="round" />
<polyline points="1154.5,134.6 1292.4,163.4 1434.3,192.1" fill="none" stroke="#00e000" stroke-width="1.2" stroke-linejoin="round" />
<g clip-path="url(#ac)">
<use href="#ua" x="63.2" y="105.6" fill="#ff0000"/>
<use href="#ua" x="118.7" y="132.4" fill="#ff0000"/>
<use href="#ua" x="231.2" y="293.2" fill="#ff0000"/>
<use href="#ua" x="259.7" y="311.2" fill="#ff0000"/>
<use href="#ua" x="286.7" y="312.3" fill="#ff0000"/>
<use href="#ua" x="483.2" y="348.3" fill="#ff0000"/>
<use href="#ua" x="576.2" y="347" fill="#ff0000"/>
<use href="#ua" x="697.7" y="356.2" fill="#ff0000"/>
<use href="#ua" x="735.2" y="375.7" fill="#ff0000"/>
<use href="#ua" x="763.7" y="381.9" fill="#ff0000"/>
<use href="#ua" x="921.2" y="504.7" fill="#ff0000"/>
<use href="#ua" x="1183.7" y="434.2" fill="#ff0000"/>
<use href="#ua" x="1378.7" y="483.4" fill="#ff0000"/>
<use href="#ua" x="1407.2" y="500.2" fill="#ff0000"/>
</g>
<use href="#da" x="417.2" y="202.1" fill="none" stroke="#00e800" stroke-width="1.45"/>
<use href="#da" x="837.2" y="276.8" fill="none" stroke="#00e800" stroke-width="1.45"/>
<use href="#da" x="1033.7" y="349.3" fill="none" stroke="#00e800" stroke-width="1.45"/>
<use href="#da" x="1126.7" y="330.6" fill="none" stroke="#00e800" stroke-width="1.45"/>
<g clip-path="url(#mc)" stroke="#0000ff" stroke-width="1.2" fill="none">
<line x1="45" y1="35.5" x2="1445.3" y2="517.9"/>
<line x1="545" y1="35" x2="1468" y2="351.6"/>
<line x1="2.5" y1="195" x2="943" y2="518.05"/>
<line x1="404.5" y1="517.85" x2="1468" y2="241.7"/>
<line x1="859" y1="517.85" x2="1468" y2="360.3"/>
<line x1="2.5" y1="380.9" x2="1468" y2="380.9"/>
<line x1="2.5" y1="433.6" x2="1468" y2="433.6"/>
</g>
<text x="1319.5" y="516.3" font-size="18" fill="#c8c8c8" textLength="63" lengthAdjust="spacingAndGlyphs">2440.91</text>
<path d="M1384,508.6 H1411 M1406,505.6 L1411.5,508.6 L1406,511.6" stroke="#c8c8c8" stroke-width="1.4" fill="none"/>
<path d="M1435.1,14.2 L1443.4,22.5 L1435.1,30.8 L1426.8,22.5 Z" fill="none" stroke="#b80000" stroke-width="1.4"/>
<path d="M1449.7,14.6 H1464.3 V30.2 H1449.7 Z M1459.3,14.6 V30.2" fill="none" stroke="#b80000" stroke-width="1.5"/>
<rect x="1413.3" y="35.2" width="4.8" height="2.8" fill="#ff00ff"/>
<rect x="1422.3" y="35.2" width="4.8" height="2.8" fill="#ff00ff"/>
<rect x="1433.2" y="35.2" width="4.8" height="2.8" fill="#ff00ff"/>
<text x="3.6" y="27.6" font-size="18" fill="#c0c0c0" textLength="177.5" lengthAdjust="spacingAndGlyphs">上证指数(日线.前复权)</text>
<use href="#ua" x="198.2" y="12.6" fill="#ff0000"/>
<text x="211.8" y="27.3" font-size="18" fill="#ffffff" textLength="38.0" lengthAdjust="spacingAndGlyphs">MA5:</text>
<text x="255.2" y="27.3" font-size="18" fill="#ffffff" textLength="63.6" lengthAdjust="spacingAndGlyphs">2500.81</text>
<text x="330" y="27.3" font-size="18" fill="#ffff00" textLength="47.3" lengthAdjust="spacingAndGlyphs">MA10:</text>
<text x="384.4" y="27.3" font-size="18" fill="#ffff00" textLength="65.2" lengthAdjust="spacingAndGlyphs">2501.12</text>
<text x="459.3" y="27.3" font-size="18" fill="#ff00ff" textLength="48.5" lengthAdjust="spacingAndGlyphs">MA20:</text>
<text x="514.3" y="27.3" font-size="18" fill="#ff00ff" textLength="64.5" lengthAdjust="spacingAndGlyphs">2539.82</text>
<text x="588.1" y="27.3" font-size="18" fill="#00ff00" textLength="57.1" lengthAdjust="spacingAndGlyphs">MA250:</text>
<text x="653.1" y="27.3" font-size="18" fill="#00ff00" textLength="64.4" lengthAdjust="spacingAndGlyphs">2937.17</text>
<text x="2.4" y="554.3" font-size="18" fill="#ffffff" textLength="77.2" lengthAdjust="spacingAndGlyphs">VOLUME:</text>
<text x="86.1" y="554.3" font-size="18" fill="#ffffff" textLength="117.4" lengthAdjust="spacingAndGlyphs">158099184.00</text>
<text x="212.8" y="554.3" font-size="18" fill="#ffffff" textLength="38.0" lengthAdjust="spacingAndGlyphs">MA5:</text>
<text x="256.8" y="554.3" font-size="18" fill="#ffffff" textLength="117.4" lengthAdjust="spacingAndGlyphs">147722272.00</text>
<text x="384.6" y="554.3" font-size="18" fill="#ffff00" textLength="47.2" lengthAdjust="spacingAndGlyphs">MA10:</text>
<text x="440" y="554.3" font-size="18" fill="#ffff00" textLength="116.2" lengthAdjust="spacingAndGlyphs">134007352.00</text>
<text x="3" y="729.8" font-size="18" fill="#c8c8c8" textLength="85" lengthAdjust="spacingAndGlyphs">KDJ(9,3,3)</text>
<text x="97.3" y="729.8" font-size="18" fill="#ffffff" textLength="13.9" lengthAdjust="spacingAndGlyphs">K:</text>
<text x="117.8" y="729.8" font-size="18" fill="#ffffff" textLength="45.7" lengthAdjust="spacingAndGlyphs">66.95</text>
<text x="172.3" y="729.8" font-size="18" fill="#ffff00" textLength="14.3" lengthAdjust="spacingAndGlyphs">D:</text>
<text x="195.3" y="729.8" font-size="18" fill="#ffff00" textLength="44.0" lengthAdjust="spacingAndGlyphs">44.99</text>
<text x="247.3" y="729.8" font-size="18" fill="#ff00ff" textLength="11.3" lengthAdjust="spacingAndGlyphs">J:</text>
<text x="266.8" y="729.8" font-size="18" fill="#ff00ff" textLength="55.0" lengthAdjust="spacingAndGlyphs">110.88</text>
<rect x="3.45" y="633.8" width="7.5" height="75.2" fill="#54ffff"/>
<rect x="12.45" y="633.8" width="7.5" height="75.2" fill="#54ffff"/>
<rect x="21.45" y="631.4" width="7.5" height="77.6" fill="#54ffff"/>
<rect x="30.45" y="618.7" width="7.5" height="90.3" fill="#54ffff"/>
<rect x="40.95" y="628.1" width="7.5" height="80.9" fill="#ff3232"/>
<rect x="49.95" y="633.8" width="7.5" height="75.2" fill="#54ffff"/>
<rect x="58.95" y="641.3" width="7.5" height="67.7" fill="#ff3232"/>
<rect x="67.95" y="639.8" width="7.5" height="69.2" fill="#ff3232"/>
<rect x="76.95" y="638.2" width="7.5" height="70.8" fill="#ff3232"/>
<rect x="87.45" y="634.8" width="7.5" height="74.2" fill="#54ffff"/>
<rect x="96.45" y="630.8" width="7.5" height="78.2" fill="#54ffff"/>
<rect x="105.45" y="645.5" width="7.5" height="63.5" fill="#54ffff"/>
<rect x="114.45" y="642.9" width="7.5" height="66.1" fill="#ff3232"/>
<rect x="124.95" y="638.8" width="7.5" height="70.2" fill="#54ffff"/>
<rect x="133.95" y="640.8" width="7.5" height="68.2" fill="#ff3232"/>
<rect x="142.95" y="624.7" width="7.5" height="84.3" fill="#54ffff"/>
<rect x="151.95" y="575.3" width="7.5" height="133.7" fill="#54ffff"/>
<rect x="160.95" y="624.7" width="7.5" height="84.3" fill="#ff3232"/>
<rect x="171.45" y="617.7" width="7.5" height="91.3" fill="#54ffff"/>
<rect x="180.45" y="635.2" width="7.5" height="73.8" fill="#ff3232"/>
<rect x="189.45" y="638.2" width="7.5" height="70.8" fill="#54ffff"/>
<rect x="198.45" y="635.2" width="7.5" height="73.8" fill="#ff3232"/>
<rect x="208.95" y="633.8" width="7.5" height="75.2" fill="#54ffff"/>
<rect x="217.95" y="639.4" width="7.5" height="69.6" fill="#54ffff"/>
<rect x="226.95" y="635.8" width="7.5" height="73.2" fill="#ff3232"/>
<rect x="235.95" y="629.4" width="7.5" height="79.6" fill="#54ffff"/>
<rect x="244.95" y="626.1" width="7.5" height="82.9" fill="#ff3232"/>
<rect x="255.45" y="636.8" width="7.5" height="72.2" fill="#54ffff"/>
<rect x="264.45" y="633.8" width="7.5" height="75.2" fill="#54ffff"/>
<rect x="273.45" y="629.4" width="7.5" height="79.6" fill="#ff3232"/>
<rect x="282.45" y="638.2" width="7.5" height="70.8" fill="#ff3232"/>
<rect x="292.95" y="639.4" width="7.5" height="69.6" fill="#ff3232"/>
<rect x="301.95" y="636.8" width="7.5" height="72.2" fill="#54ffff"/>
<rect x="310.95" y="623.3" width="7.5" height="85.7" fill="#ff3232"/>
<rect x="319.95" y="639.8" width="7.5" height="69.2" fill="#54ffff"/>
<rect x="328.95" y="645.9" width="7.5" height="63.1" fill="#54ffff"/>
<rect x="339.45" y="647.5" width="7.5" height="61.5" fill="#54ffff"/>
<rect x="348.45" y="639.4" width="7.5" height="69.6" fill="#54ffff"/>
<rect x="357.45" y="641.9" width="7.5" height="67.1" fill="#54ffff"/>
<rect x="366.45" y="623.3" width="7.5" height="85.7" fill="#ff3232"/>
<rect x="376.95" y="608.6" width="7.5" height="100.4" fill="#ff3232"/>
<rect x="385.95" y="576.9" width="7.5" height="132.1" fill="#ff3232"/>
<rect x="394.95" y="611.6" width="7.5" height="97.4" fill="#54ffff"/>
<rect x="403.95" y="611.2" width="7.5" height="97.8" fill="#54ffff"/>
<rect x="412.95" y="623.7" width="7.5" height="85.3" fill="#54ffff"/>
<rect x="423.45" y="621.3" width="7.5" height="87.7" fill="#54ffff"/>
<rect x="432.45" y="639.8" width="7.5" height="69.2" fill="#ff3232"/>
<rect x="441.45" y="622.1" width="7.5" height="86.9" fill="#54ffff"/>
<rect x="450.45" y="608.6" width="7.5" height="100.4" fill="#54ffff"/>
<rect x="460.95" y="635.4" width="7.5" height="73.6" fill="#54ffff"/>
<rect x="469.95" y="633.8" width="7.5" height="75.2" fill="#54ffff"/>
<rect x="478.95" y="622.1" width="7.5" height="86.9" fill="#ff3232"/>
<rect x="487.95" y="624.7" width="7.5" height="84.3" fill="#54ffff"/>
<rect x="496.95" y="620.3" width="7.5" height="88.7" fill="#ff3232"/>
<rect x="507.45" y="638.2" width="7.5" height="70.8" fill="#ff3232"/>
<rect x="516.45" y="633.8" width="7.5" height="75.2" fill="#ff3232"/>
<rect x="525.45" y="644.3" width="7.5" height="64.7" fill="#ff3232"/>
<rect x="534.45" y="641.5" width="7.5" height="67.5" fill="#54ffff"/>
<rect x="544.95" y="638.8" width="7.5" height="70.2" fill="#ff3232"/>
<rect x="553.95" y="642.9" width="7.5" height="66.1" fill="#54ffff"/>
<rect x="562.95" y="643.9" width="7.5" height="65.1" fill="#ff3232"/>
<rect x="571.95" y="642.9" width="7.5" height="66.1" fill="#ff3232"/>
<rect x="580.95" y="653.5" width="7.5" height="55.5" fill="#54ffff"/>
<rect x="591.45" y="650.9" width="7.5" height="58.1" fill="#ff3232"/>
<rect x="600.45" y="649.9" width="7.5" height="59.1" fill="#ff3232"/>
<rect x="609.45" y="630.8" width="7.5" height="78.2" fill="#ff3232"/>
<rect x="618.45" y="639.8" width="7.5" height="69.2" fill="#54ffff"/>
<rect x="628.95" y="650.3" width="7.5" height="58.7" fill="#54ffff"/>
<rect x="637.95" y="645.5" width="7.5" height="63.5" fill="#54ffff"/>
<rect x="646.95" y="643.9" width="7.5" height="65.1" fill="#54ffff"/>
<rect x="655.95" y="648.9" width="7.5" height="60.1" fill="#ff3232"/>
<rect x="664.95" y="647.9" width="7.5" height="61.1" fill="#ff3232"/>
<rect x="675.45" y="648.3" width="7.5" height="60.7" fill="#54ffff"/>
<rect x="684.45" y="650.3" width="7.5" height="58.7" fill="#54ffff"/>
<rect x="693.45" y="648.3" width="7.5" height="60.7" fill="#ff3232"/>
<rect x="702.45" y="647.5" width="7.5" height="61.5" fill="#54ffff"/>
<rect x="712.95" y="649.5" width="7.5" height="59.5" fill="#54ffff"/>
<rect x="721.95" y="656.4" width="7.5" height="52.6" fill="#54ffff"/>
<rect x="730.95" y="645.9" width="7.5" height="63.1" fill="#ff3232"/>
<rect x="739.95" y="650.9" width="7.5" height="58.1" fill="#54ffff"/>
<rect x="748.95" y="656.4" width="7.5" height="52.6" fill="#54ffff"/>
<rect x="759.45" y="641.5" width="7.5" height="67.5" fill="#ff3232"/>
<rect x="768.45" y="626.3" width="7.5" height="82.7" fill="#ff3232"/>
<rect x="777.45" y="645.5" width="7.5" height="63.5" fill="#54ffff"/>
<rect x="786.45" y="617.3" width="7.5" height="91.7" fill="#ff3232"/>
<rect x="796.95" y="643.9" width="7.5" height="65.1" fill="#ff3232"/>
<rect x="805.95" y="627.7" width="7.5" height="81.3" fill="#ff3232"/>
<rect x="814.95" y="637.4" width="7.5" height="71.6" fill="#54ffff"/>
<rect x="823.95" y="631.4" width="7.5" height="77.6" fill="#ff3232"/>
<rect x="832.95" y="622.1" width="7.5" height="86.9" fill="#54ffff"/>
<rect x="843.45" y="641.5" width="7.5" height="67.5" fill="#ff3232"/>
<rect x="852.45" y="642.9" width="7.5" height="66.1" fill="#ff3232"/>
<rect x="861.45" y="594.5" width="7.5" height="114.5" fill="#54ffff"/>
<rect x="870.45" y="610.0" width="7.5" height="99.0" fill="#ff3232"/>
<rect x="880.95" y="639.8" width="7.5" height="69.2" fill="#54ffff"/>
<rect x="889.95" y="639.8" width="7.5" height="69.2" fill="#54ffff"/>
<rect x="898.95" y="633.8" width="7.5" height="75.2" fill="#54ffff"/>
<rect x="907.95" y="635.4" width="7.5" height="73.6" fill="#54ffff"/>
<rect x="916.95" y="623.3" width="7.5" height="85.7" fill="#ff3232"/>
<rect x="927.45" y="585.8" width="7.5" height="123.2" fill="#ff3232"/>
<rect x="936.45" y="605.6" width="7.5" height="103.4" fill="#54ffff"/>
<rect x="945.45" y="615.6" width="7.5" height="93.4" fill="#ff3232"/>
<rect x="954.45" y="614.2" width="7.5" height="94.8" fill="#ff3232"/>
<rect x="964.95" y="616.0" width="7.5" height="93.0" fill="#54ffff"/>
<rect x="973.95" y="630.8" width="7.5" height="78.2" fill="#54ffff"/>
<rect x="982.95" y="612.6" width="7.5" height="96.4" fill="#ff3232"/>
<rect x="991.95" y="604.0" width="7.5" height="105.0" fill="#ff3232"/>
<rect x="1000.95" y="591.9" width="7.5" height="117.1" fill="#54ffff"/>
<rect x="1011.45" y="578.3" width="7.5" height="130.7" fill="#ff3232"/>
<rect x="1020.45" y="596.5" width="7.5" height="112.5" fill="#54ffff"/>
<rect x="1029.45" y="614.6" width="7.5" height="94.4" fill="#54ffff"/>
<rect x="1038.45" y="608.6" width="7.5" height="100.4" fill="#54ffff"/>
<rect x="1048.95" y="616.0" width="7.5" height="93.0" fill="#54ffff"/>
<rect x="1057.95" y="620.7" width="7.5" height="88.3" fill="#54ffff"/>
<rect x="1066.95" y="606.6" width="7.5" height="102.4" fill="#ff3232"/>
<rect x="1075.95" y="564.8" width="7.5" height="144.2" fill="#ff3232"/>
<rect x="1084.95" y="570.9" width="7.5" height="138.1" fill="#54ffff"/>
<rect x="1095.45" y="589.0" width="7.5" height="120.0" fill="#ff3232"/>
<rect x="1104.45" y="569.3" width="7.5" height="139.7" fill="#ff3232"/>
<rect x="1113.45" y="575.3" width="7.5" height="133.7" fill="#ff3232"/>
<rect x="1122.45" y="584.4" width="7.5" height="124.6" fill="#54ffff"/>
<rect x="1132.95" y="602.5" width="7.5" height="106.5" fill="#ff3232"/>
<rect x="1141.95" y="622.1" width="7.5" height="86.9" fill="#54ffff"/>
<rect x="1150.95" y="597.9" width="7.5" height="111.1" fill="#54ffff"/>
<rect x="1159.95" y="631.2" width="7.5" height="77.8" fill="#54ffff"/>
<rect x="1168.95" y="637.4" width="7.5" height="71.6" fill="#54ffff"/>
<rect x="1179.45" y="622.8" width="7.5" height="86.2" fill="#ff3232"/>
<rect x="1188.45" y="617.3" width="7.5" height="91.7" fill="#54ffff"/>
<rect x="1197.45" y="628.1" width="7.5" height="80.9" fill="#ff3232"/>
<rect x="1206.45" y="588.8" width="7.5" height="120.2" fill="#ff3232"/>
<rect x="1216.95" y="611.6" width="7.5" height="97.4" fill="#ff3232"/>
<rect x="1225.95" y="617.3" width="7.5" height="91.7" fill="#ff3232"/>
<rect x="1234.95" y="626.3" width="7.5" height="82.7" fill="#54ffff"/>
<rect x="1243.95" y="644.5" width="7.5" height="64.5" fill="#54ffff"/>
<rect x="1252.95" y="642.9" width="7.5" height="66.1" fill="#54ffff"/>
<rect x="1263.45" y="648.9" width="7.5" height="60.1" fill="#ff3232"/>
<rect x="1272.45" y="648.9" width="7.5" height="60.1" fill="#54ffff"/>
<rect x="1281.45" y="622.1" width="7.5" height="86.9" fill="#ff3232"/>
<rect x="1290.45" y="623.3" width="7.5" height="85.7" fill="#54ffff"/>
<rect x="1300.95" y="639.8" width="7.5" height="69.2" fill="#ff3232"/>
<rect x="1309.95" y="639.8" width="7.5" height="69.2" fill="#54ffff"/>
<rect x="1318.95" y="645.9" width="7.5" height="63.1" fill="#54ffff"/>
<rect x="1327.95" y="639.8" width="7.5" height="69.2" fill="#54ffff"/>
<rect x="1336.95" y="641.5" width="7.5" height="67.5" fill="#54ffff"/>
<rect x="1347.45" y="650.3" width="7.5" height="58.7" fill="#ff3232"/>
<rect x="1356.45" y="626.3" width="7.5" height="82.7" fill="#ff3232"/>
<rect x="1365.45" y="645.9" width="7.5" height="63.1" fill="#54ffff"/>
<rect x="1374.45" y="629.4" width="7.5" height="79.6" fill="#54ffff"/>
<rect x="1384.95" y="640.8" width="7.5" height="68.2" fill="#ff3232"/>
<rect x="1393.95" y="644.5" width="7.5" height="64.5" fill="#54ffff"/>
<rect x="1402.95" y="639.8" width="7.5" height="69.2" fill="#ff3232"/>
<rect x="1411.95" y="611.2" width="7.5" height="97.8" fill="#ff3232"/>
<rect x="1420.95" y="605.6" width="7.5" height="103.4" fill="#ff3232"/>
<rect x="1431.45" y="617.3" width="7.5" height="91.7" fill="#54ffff"/>
<polyline points="7.2,630.0 16.2,629.9 25.2,629.5 34.2,627.8 44.7,627.1 53.7,626.9 62.7,628.8 71.7,630.5 80.7,632.1 91.2,633.4 100.2,633.1 109.2,634.2 118.2,635.4 128.7,637.4 137.7,638.7 146.7,637.8 155.7,631.2 164.7,629.6 175.2,627.6 184.2,627.6 193.2,628.4 202.2,627.4 212.7,626.4 221.7,626.5 230.7,626.0 239.7,626.5 248.7,631.5 259.2,632.8 268.2,634.4 277.2,633.8 286.2,633.8 296.7,634.2 305.7,634.5 314.7,632.9 323.7,633.3 332.7,635.0 343.2,637.1 352.2,637.4 361.2,638.2 370.2,637.5 380.7,634.6 389.7,628.3 398.7,625.8 407.7,624.6 416.7,623.0 427.2,620.5 436.2,619.8 445.2,618.0 454.2,614.7 464.7,615.9 473.7,618.4 482.7,623.0 491.7,624.3 500.7,625.2 511.2,626.6 520.2,627.9 529.2,628.3 538.2,630.3 548.7,633.3 557.7,634.0 566.7,635.0 575.7,637.1 584.7,640.0 595.2,643.1 604.2,644.2 613.2,643.9 622.2,643.5 632.7,644.4 641.7,645.0 650.7,645.1 659.7,645.6 668.7,646.1 679.2,645.6 688.2,645.6 697.2,645.4 706.2,647.1 716.7,648.0 725.7,648.6 734.7,648.7 743.7,649.4 752.7,650.1 763.2,649.5 772.2,647.3 781.2,646.8 790.2,643.7 800.7,643.4 809.7,641.2 818.7,639.3 827.7,637.8 836.7,635.0 847.2,633.5 856.2,633.6 865.2,630.4 874.2,626.9 884.7,629.1 893.7,628.7 902.7,629.3 911.7,629.1 920.7,628.3 931.2,624.7 940.2,621.1 949.2,618.4 958.2,620.3 968.7,620.9 977.7,620.0 986.7,617.3 995.7,614.3 1004.7,610.0 1015.2,605.5 1024.2,606.5 1033.2,607.5 1042.2,606.8 1052.7,606.9 1061.7,607.4 1070.7,605.0 1079.7,600.2 1088.7,596.9 1099.2,596.6 1108.2,595.7 1117.2,593.6 1126.2,590.6 1136.7,590.0 1145.7,590.6 1154.7,588.3 1163.7,590.7 1172.7,598.0 1183.2,603.2 1192.2,606.0 1201.2,611.9 1210.2,613.2 1220.7,616.0 1229.7,617.5 1238.7,617.9 1247.7,622.5 1256.7,623.7 1267.2,624.9 1276.2,627.5 1285.2,627.9 1294.2,627.5 1304.7,632.6 1313.7,635.4 1322.7,638.2 1331.7,639.6 1340.7,639.3 1351.2,640.0 1360.2,637.8 1369.2,637.5 1378.2,638.2 1388.7,640.0 1397.7,640.4 1406.7,640.4 1415.7,637.0 1424.7,633.5 1435.2,631.1" fill="none" stroke="#ffff00" stroke-width="1.2" stroke-linejoin="round" />
<polyline points="7.2,624.7 16.2,627.0 25.2,628.8 34.2,628.0 44.7,629.2 53.7,629.2 62.7,630.7 71.7,632.3 80.7,636.2 91.2,637.6 100.2,637.0 109.2,637.8 118.2,638.4 128.7,638.6 137.7,639.8 146.7,638.5 155.7,624.5 164.7,620.9 175.2,616.6 184.2,615.5 193.2,618.2 202.2,630.2 212.7,632.0 221.7,636.4 230.7,636.5 239.7,634.7 248.7,632.9 259.2,633.5 268.2,632.4 277.2,631.1 286.2,632.9 296.7,635.5 305.7,635.5 314.7,633.4 323.7,635.5 332.7,637.0 343.2,638.7 352.2,639.2 361.2,642.9 370.2,639.6 380.7,632.1 389.7,618.0 398.7,612.5 407.7,606.3 416.7,606.4 427.2,608.9 436.2,621.5 445.2,623.6 454.2,623.1 464.7,625.4 473.7,627.9 482.7,624.4 491.7,624.9 500.7,627.3 511.2,627.8 520.2,627.8 529.2,632.3 538.2,635.6 548.7,639.3 557.7,640.3 566.7,642.3 575.7,642.0 584.7,644.4 595.2,646.8 604.2,648.2 613.2,645.6 622.2,645.0 632.7,644.3 641.7,643.3 650.7,642.1 659.7,645.7 668.7,647.3 679.2,646.9 688.2,647.9 697.2,648.7 706.2,648.5 716.7,648.8 725.7,650.4 734.7,649.5 743.7,650.0 752.7,651.8 763.2,650.2 772.2,644.2 781.2,644.1 790.2,637.4 800.7,634.9 809.7,632.1 818.7,634.4 827.7,631.5 836.7,632.5 847.2,632.0 856.2,635.1 865.2,626.5 874.2,622.2 884.7,625.7 893.7,625.4 902.7,623.6 911.7,631.8 920.7,634.4 931.2,623.6 940.2,616.8 949.2,613.1 958.2,608.9 968.7,607.4 977.7,616.4 986.7,617.8 995.7,615.5 1004.7,611.1 1015.2,603.5 1024.2,596.7 1033.2,597.1 1042.2,598.0 1052.7,602.8 1061.7,611.3 1070.7,613.3 1079.7,603.3 1088.7,595.8 1099.2,590.4 1108.2,580.1 1117.2,573.9 1126.2,577.8 1136.7,584.1 1145.7,590.7 1154.7,596.4 1163.7,607.6 1172.7,618.2 1183.2,622.3 1192.2,621.3 1201.2,627.4 1210.2,618.9 1220.7,613.7 1229.7,612.6 1238.7,614.4 1247.7,617.7 1256.7,628.5 1267.2,636.0 1276.2,642.3 1285.2,641.5 1294.2,637.2 1304.7,636.6 1313.7,634.8 1322.7,634.2 1331.7,637.7 1340.7,641.4 1351.2,643.5 1360.2,640.8 1369.2,640.8 1378.2,638.7 1388.7,638.5 1397.7,637.4 1406.7,640.1 1415.7,633.1 1424.7,628.4 1435.2,623.7" fill="none" stroke="#f0f0f0" stroke-width="1.1" stroke-linejoin="round" />
<g clip-path="url(#kc)">
<clipPath id="kc"><rect x="2.3" y="712" width="1466" height="171"/></clipPath>
<polyline points="7.2,800.9 16.2,811.0 25.2,820.7 34.2,830.0 44.7,834.1 53.7,837.0 62.7,837.9 71.7,836.1 80.7,830.9 91.2,825.0 100.2,823.8 109.2,825.8 118.2,825.5 128.7,827.9 137.7,831.8 146.7,835.9 155.7,839.5 164.7,841.9 175.2,845.4 184.2,846.6 193.2,848.1 202.2,849.0 212.7,850.6 221.7,852.8 230.7,851.4 239.7,851.1 248.7,849.1 259.2,847.9 268.2,848.7 277.2,846.9 286.2,839.0 296.7,828.3 305.7,821.0 314.7,811.6 323.7,802.4 332.7,795.5 343.2,791.7 352.2,790.6 361.2,795.6 370.2,795.3 380.7,791.3 389.7,786.5 398.7,782.0 407.7,780.0 416.7,779.8 427.2,780.7 436.2,781.6 445.2,786.0 454.2,794.1 464.7,804.9 473.7,815.8 482.7,821.5 491.7,826.0 500.7,826.6 511.2,825.3 520.2,824.0 529.2,819.6 538.2,819.5 548.7,821.9 557.7,827.6 566.7,830.9 575.7,830.1 584.7,829.0 595.2,826.2 604.2,822.7 613.2,814.1 622.2,805.3 632.7,798.1 641.7,795.1 650.7,797.9 659.7,803.4 668.7,805.7 679.2,811.9 688.2,819.7 697.2,826.2 706.2,833.5 716.7,839.2 725.7,843.9 734.7,844.4 743.7,843.3 752.7,844.8 763.2,840.2 772.2,831.0 781.2,821.0 790.2,809.8 800.7,800.7 809.7,793.4 818.7,788.5 827.7,783.4 836.7,785.6 847.2,792.5 856.2,801.5 865.2,811.6 874.2,819.2 884.7,826.6 893.7,833.8 902.7,839.0 911.7,844.2 920.7,844.8 931.2,839.1 940.2,831.8 949.2,824.3 958.2,817.5 968.7,812.0 977.7,810.7 986.7,810.0 995.7,807.8 1004.7,806.8 1015.2,801.2 1024.2,794.9 1033.2,789.6 1042.2,786.5 1052.7,784.9 1061.7,787.5 1070.7,790.7 1079.7,791.7 1088.7,794.7 1099.2,793.1 1108.2,790.5 1117.2,785.9 1126.2,786.9 1136.7,789.8 1145.7,793.7 1154.7,803.0 1163.7,813.3 1172.7,822.9 1183.2,828.7 1192.2,834.8 1201.2,838.2 1210.2,832.0 1220.7,821.1 1229.7,811.2 1238.7,807.6 1247.7,807.2 1256.7,810.4 1267.2,814.3 1276.2,816.8 1285.2,815.8 1294.2,818.7 1304.7,821.8 1313.7,826.1 1322.7,832.0 1331.7,836.5 1340.7,840.5 1351.2,842.7 1360.2,843.7 1369.2,844.0 1378.2,844.8 1388.7,844.8 1397.7,846.2 1406.7,848.2 1415.7,841.4 1424.7,830.0 1435.2,818.2" fill="none" stroke="#ffff00" stroke-width="1.2" stroke-linejoin="round" />
<polyline points="7.2,826.0 16.2,831.3 25.2,839.9 34.2,848.6 44.7,842.4 53.7,842.9 62.7,839.8 71.7,832.5 80.7,820.4 91.2,813.3 100.2,821.4 109.2,829.9 118.2,824.7 128.7,832.8 137.7,839.6 146.7,844.2 155.7,846.5 164.7,846.8 175.2,852.4 184.2,848.9 193.2,851.1 202.2,850.8 212.7,853.9 221.7,857.2 230.7,848.5 239.7,850.5 248.7,845.2 259.2,845.3 268.2,850.3 277.2,843.3 286.2,823.3 296.7,806.8 305.7,806.6 314.7,792.7 323.7,784.1 332.7,781.6 343.2,784.2 352.2,788.5 361.2,805.5 370.2,794.7 380.7,783.4 389.7,776.7 398.7,773.1 407.7,776.0 416.7,779.3 427.2,782.7 436.2,783.3 445.2,794.8 454.2,810.4 464.7,826.3 473.7,837.5 482.7,833.0 491.7,835.0 500.7,827.7 511.2,822.7 520.2,821.3 529.2,811.0 538.2,819.2 548.7,826.5 557.7,839.0 566.7,837.6 575.7,828.5 584.7,826.6 595.2,820.8 604.2,815.7 613.2,796.9 622.2,787.5 632.7,783.7 641.7,789.2 650.7,803.6 659.7,814.3 668.7,810.3 679.2,824.4 688.2,835.1 697.2,839.3 706.2,848.2 716.7,850.7 725.7,853.3 734.7,845.3 743.7,841.3 752.7,847.8 763.2,830.9 772.2,812.6 781.2,801.0 790.2,787.5 800.7,782.5 809.7,778.7 818.7,778.8 827.7,773.1 836.7,790.0 847.2,806.3 856.2,819.5 865.2,831.8 874.2,834.5 884.7,841.2 893.7,848.3 902.7,849.3 911.7,854.5 920.7,846.1 931.2,827.8 940.2,817.3 949.2,809.2 958.2,803.9 968.7,801.0 977.7,808.1 986.7,808.7 995.7,803.5 1004.7,804.9 1015.2,789.9 1024.2,782.4 1033.2,778.9 1042.2,780.2 1052.7,781.9 1061.7,792.5 1070.7,797.3 1079.7,793.6 1088.7,800.8 1099.2,789.8 1108.2,785.2 1117.2,776.7 1126.2,788.9 1136.7,795.6 1145.7,801.4 1154.7,821.8 1163.7,833.8 1172.7,842.1 1183.2,840.3 1192.2,847.1 1201.2,845.1 1210.2,819.4 1220.7,799.3 1229.7,791.3 1238.7,800.6 1247.7,806.2 1256.7,816.9 1267.2,822.0 1276.2,822.0 1285.2,813.8 1294.2,824.4 1304.7,828.0 1313.7,834.6 1322.7,844.0 1331.7,845.4 1340.7,848.4 1351.2,847.3 1360.2,845.5 1369.2,844.6 1378.2,846.5 1388.7,844.7 1397.7,849.1 1406.7,852.3 1415.7,827.7 1424.7,807.1 1435.2,794.7" fill="none" stroke="#f0f0f0" stroke-width="1.1" stroke-linejoin="round" />
<polyline points="7.2,876.2 16.2,871.9 25.2,878.5 34.2,885.9 44.7,858.9 53.7,854.6 62.7,843.4 71.7,825.1 80.7,799.4 91.2,789.9 100.2,816.7 109.2,837.9 118.2,823.1 128.7,842.7 137.7,855.1 146.7,860.8 155.7,860.6 164.7,856.6 175.2,866.5 184.2,853.6 193.2,857.2 202.2,854.4 212.7,860.3 221.7,866.0 230.7,842.8 239.7,849.3 248.7,837.4 259.2,840.3 268.2,853.6 277.2,836.1 286.2,791.9 296.7,763.7 305.7,777.6 314.7,754.9 323.7,747.4 332.7,753.8 343.2,769.1 352.2,784.2 361.2,825.3 370.2,793.5 380.7,767.5 389.7,757.3 398.7,755.2 407.7,768.0 416.7,778.3 427.2,786.7 436.2,786.7 445.2,812.4 454.2,843.0 464.7,869.2 473.7,881.1 482.7,856.1 491.7,853.0 500.7,829.9 511.2,817.6 520.2,816.0 529.2,793.7 538.2,818.7 548.7,835.9 557.7,861.9 566.7,851.1 575.7,825.2 584.7,822.0 595.2,810.0 604.2,801.7 613.2,762.4 622.2,752.1 632.7,755.0 641.7,777.4 650.7,814.8 659.7,836.0 668.7,819.5 679.2,849.4 688.2,866.1 697.2,865.5 706.2,877.4 716.7,873.5 725.7,872.0 734.7,847.1 743.7,837.1 752.7,853.9 763.2,812.3 772.2,775.8 781.2,761.1 790.2,742.8 800.7,746.1 809.7,749.4 818.7,759.5 827.7,752.6 836.7,798.8 847.2,833.8 856.2,855.5 865.2,872.2 874.2,865.0 884.7,870.6 893.7,877.2 902.7,870.0 911.7,875.2 920.7,848.6 931.2,805.2 940.2,788.1 949.2,779.1 958.2,776.6 968.7,778.9 977.7,802.8 986.7,806.0 995.7,794.8 1004.7,800.9 1015.2,767.2 1024.2,757.4 1033.2,757.6 1042.2,767.6 1052.7,775.9 1061.7,802.6 1070.7,810.4 1079.7,797.5 1088.7,812.8 1099.2,783.3 1108.2,774.8 1117.2,758.4 1126.2,792.8 1136.7,807.1 1145.7,816.9 1154.7,859.4 1163.7,874.8 1172.7,880.5 1183.2,863.6 1192.2,871.6 1201.2,858.7 1210.2,794.4 1220.7,755.7 1229.7,751.6 1238.7,786.6 1247.7,804.3 1256.7,829.9 1267.2,837.4 1276.2,832.2 1285.2,809.7 1294.2,835.9 1304.7,840.5 1313.7,851.6 1322.7,867.9 1331.7,863.2 1340.7,864.2 1351.2,856.4 1360.2,849.1 1369.2,845.8 1378.2,849.9 1388.7,844.6 1397.7,854.7 1406.7,860.4 1415.7,800.4 1424.7,761.4 1435.2,747.6" fill="none" stroke="#ff00ff" stroke-width="1.2" stroke-linejoin="round" />
</g>
</svg>
</body></html>
